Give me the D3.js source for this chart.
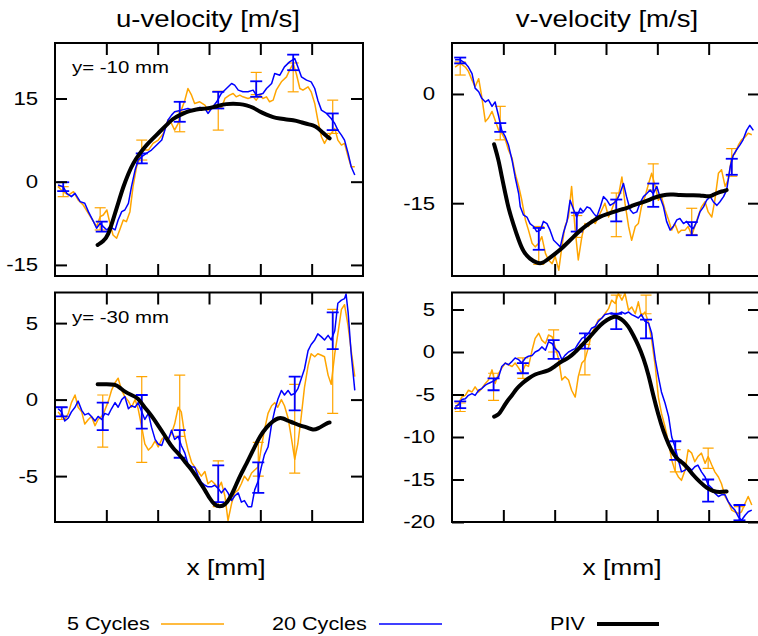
<!DOCTYPE html>
<html lang="en">
<head>
<meta charset="UTF-8">
<title>u / v velocity profiles</title>
<script src="https://d3js.org/d3.v7.min.js"></script>
<style>
    body { margin: 0; background: #fff; }
    svg { display: block; font-family: "Liberation Sans", Arial, sans-serif; }
</style>
</head>
<body>
<script>
    // ---- data (x in mm, velocity in m/s) ----

    // u-velocity, y = -10 mm
    var u10_5 = [[0.6,-0.9],[1.6,-1.8],[2.6,-2.4],[3.6,-1.8],[4.5,-3.3],[5.5,-4.2],[6.5,-5.7],[7.5,-7.2],[8.1,-8.1],[8.8,-6.3],[9.4,-6.0],[10.1,-5.1],[10.7,-7.5],[11.3,-9.6],[12.0,-10.2],[12.6,-8.7],[13.3,-6.9],[13.9,-7.2],[14.6,-5.4],[15.2,-0.9],[15.9,2.7],[16.5,4.2],[17.2,5.7],[18.2,5.7],[19.1,6.9],[20.1,7.5],[21.1,8.7],[22.0,11.1],[22.7,10.5],[23.3,9.3],[24.0,10.5],[24.6,12.9],[25.3,14.7],[25.9,16.8],[26.6,15.6],[27.2,14.1],[28.2,14.4],[29.2,13.8],[29.8,12.9],[30.8,13.5],[31.8,13.8],[32.4,13.2],[33.1,15.0],[34.0,15.6],[34.7,15.9],[35.3,15.3],[36.0,15.6],[36.6,15.3],[37.6,15.0],[38.6,15.3],[39.2,14.7],[39.9,15.6],[40.5,15.0],[41.2,15.3],[41.8,14.4],[42.5,14.7],[43.1,16.5],[44.1,18.0],[45.1,18.9],[45.7,20.1],[46.4,21.3],[47.0,19.5],[47.7,16.8],[48.3,16.5],[49.3,17.1],[49.9,16.2],[50.6,14.1],[51.2,11.1],[51.9,8.1],[52.5,6.9],[53.2,8.1],[53.8,8.7],[54.5,9.6],[55.1,7.5],[55.8,6.6],[56.4,6.9],[57.1,4.5],[57.7,2.7],[58.4,2.7]];
    var u10_20 = [[0.6,-0.6],[1.6,-0.9],[2.3,-2.1],[3.2,-2.7],[3.9,-2.1],[4.9,-3.6],[5.8,-3.9],[6.5,-5.4],[7.5,-7.2],[8.1,-8.4],[8.8,-7.5],[9.4,-8.1],[10.1,-8.7],[10.7,-8.1],[11.7,-8.7],[12.3,-6.9],[13.0,-5.4],[13.6,-5.1],[14.3,-3.9],[14.9,-0.9],[15.6,2.1],[16.2,3.9],[16.9,4.5],[17.8,5.1],[18.8,5.7],[19.8,6.6],[20.8,7.5],[21.4,9.3],[22.0,11.1],[22.7,12.0],[23.3,12.6],[24.6,12.9],[25.9,13.2],[26.9,12.9],[28.2,13.4],[29.2,13.2],[29.8,12.3],[30.5,13.2],[31.5,14.4],[32.4,15.9],[33.4,16.8],[34.4,17.7],[35.0,17.4],[35.7,16.5],[36.6,16.2],[37.6,16.2],[38.6,16.5],[39.2,15.6],[40.5,15.9],[41.2,16.8],[42.2,17.7],[42.8,19.5],[43.8,19.2],[44.7,20.7],[45.7,21.6],[46.7,22.2],[47.3,20.7],[48.0,18.9],[49.0,18.3],[49.9,18.0],[50.6,16.8],[51.2,14.7],[51.9,12.9],[52.9,12.3],[53.8,11.4],[54.5,10.5],[55.1,9.3],[55.8,8.4],[56.4,7.5],[57.1,5.1],[57.7,2.7],[58.4,1.2]];
    var u10_piv = [[8.3,-11.4],[9.4,-10.8],[10.4,-9.6],[11.3,-6.9],[12.3,-3.9],[13.3,-0.9],[14.3,1.5],[15.2,3.3],[16.5,5.1],[17.8,6.6],[19.1,7.8],[20.4,9.0],[21.7,10.2],[23.0,11.4],[24.3,12.0],[25.6,12.6],[26.9,12.9],[28.2,13.1],[29.5,13.2],[30.8,13.4],[32.1,13.8],[33.4,14.0],[34.7,14.1],[36.0,14.0],[37.3,13.8],[38.6,13.4],[39.9,12.6],[41.2,12.1],[42.5,11.6],[43.8,11.4],[45.1,11.2],[46.4,11.1],[47.7,10.8],[49.0,10.4],[50.3,10.2],[51.2,9.7],[52.2,8.8],[53.2,8.0],[53.5,7.8]];
    // error bars: [x, mean, half width]
    var u10_err5 = [[1.6,-1.8,0.9],[8.8,-6.7,2.0],[16.9,5.7,1.8],[24.3,10.8,1.8],[31.8,12.8,3.5],[39.2,17.7,2.0],[46.4,18.8,2.6],[54.1,11.7,3.0]];
    var u10_err20 = [[1.6,-0.9,0.8],[9.1,-8.1,0.9],[16.9,4.2,0.9],[24.3,12.6,1.8],[31.8,14.7,1.5],[39.2,16.7,1.4],[46.4,21.5,1.4],[54.1,10.8,1.5]];

    // v-velocity, y = -10 mm
    var v10_5 = [[0.6,3.7],[1.6,4.2],[2.6,3.7],[3.2,3.1],[3.9,1.9],[4.5,1.0],[5.2,2.1],[5.8,-0.4],[6.5,-3.8],[7.1,-3.3],[7.8,-2.4],[8.4,-3.6],[9.1,-5.0],[9.7,-5.4],[10.4,-6.3],[11.0,-7.7],[11.7,-8.8],[12.3,-10.9],[13.0,-12.7],[13.6,-14.6],[14.3,-17.3],[14.9,-18.7],[15.6,-20.5],[16.2,-21.0],[16.9,-20.5],[17.5,-19.6],[18.2,-21.9],[18.8,-22.8],[19.5,-23.3],[20.1,-22.3],[20.8,-24.2],[21.4,-21.0],[22.0,-18.2],[22.7,-16.9],[23.3,-12.7],[24.0,-18.7],[24.6,-22.8],[25.3,-19.6],[25.9,-17.8],[26.6,-18.2],[27.2,-17.3],[27.9,-17.8],[28.5,-16.9],[29.2,-15.9],[29.8,-15.0],[30.5,-16.9],[31.1,-15.9],[31.8,-14.6],[32.4,-14.1],[33.1,-11.4],[33.7,-15.0],[34.4,-18.2],[35.0,-20.1],[35.7,-18.2],[36.3,-17.8],[36.9,-15.5],[37.6,-14.1],[38.3,-12.3],[38.9,-10.9],[39.6,-12.7],[40.2,-14.6],[40.8,-14.1],[41.5,-15.9],[42.2,-17.3],[42.8,-18.7],[43.4,-17.8],[44.1,-19.1],[44.7,-18.7],[45.4,-18.7],[46.0,-18.2],[46.7,-19.4],[47.3,-18.2],[47.9,-16.9],[48.6,-15.5],[49.3,-14.8],[49.9,-16.2],[50.6,-16.9],[51.2,-14.6],[51.9,-10.9],[52.5,-10.4],[53.2,-12.7],[53.8,-11.8],[54.5,-8.6],[55.1,-8.2],[55.8,-7.0],[56.4,-6.3],[57.1,-5.9],[57.7,-5.4],[58.4,-5.6]];
    var v10_20 = [[0.6,4.7],[1.6,4.7],[2.6,4.2],[3.2,3.7],[3.9,2.8],[4.5,0.8],[5.2,0.3],[5.8,-0.6],[6.5,-1.1],[7.1,-0.8],[7.8,-1.7],[8.4,-1.1],[9.1,-3.1],[9.7,-5.0],[10.4,-5.9],[11.0,-7.0],[11.7,-9.1],[12.3,-11.4],[13.0,-13.7],[13.3,-15.5],[13.9,-16.6],[14.6,-16.9],[15.2,-17.8],[15.9,-18.2],[16.5,-18.9],[17.2,-18.7],[17.8,-17.5],[18.5,-17.8],[19.1,-18.7],[19.8,-20.1],[20.4,-20.5],[21.1,-21.0],[21.7,-19.1],[22.4,-17.5],[23.0,-14.6],[23.7,-15.9],[24.3,-16.9],[25.0,-15.7],[25.6,-16.2],[26.3,-15.5],[26.9,-15.7],[27.6,-16.4],[28.2,-16.9],[28.9,-15.5],[29.5,-14.1],[30.2,-14.6],[30.8,-15.3],[31.5,-15.0],[32.1,-14.6],[32.7,-13.7],[33.4,-12.3],[34.0,-14.1],[34.7,-15.9],[35.3,-16.4],[36.0,-16.2],[36.6,-15.0],[37.3,-14.1],[37.9,-13.7],[38.6,-13.2],[39.2,-13.7],[39.9,-12.7],[40.5,-14.1],[41.2,-15.5],[41.8,-17.5],[42.5,-18.7],[43.1,-18.2],[43.8,-17.3],[44.4,-17.1],[45.1,-17.8],[45.7,-17.5],[46.4,-18.2],[47.0,-18.5],[47.7,-17.5],[48.3,-16.2],[49.0,-15.5],[49.6,-14.6],[50.3,-14.1],[50.9,-14.8],[51.6,-15.3],[52.2,-14.8],[52.9,-14.1],[53.5,-13.2],[54.2,-10.0],[54.8,-8.4],[55.4,-7.7],[56.1,-7.0],[56.7,-6.3],[57.4,-5.0],[58.0,-4.3],[58.7,-5.0]];
    var v10_piv = [[8.2,-6.9],[9.1,-9.1],[9.7,-11.4],[10.4,-13.7],[11.0,-15.7],[12.0,-18.0],[13.0,-20.1],[13.9,-21.7],[15.2,-22.7],[16.5,-23.2],[17.5,-23.3],[18.5,-22.8],[19.8,-22.1],[21.1,-21.4],[22.4,-20.5],[23.7,-19.6],[25.0,-18.7],[26.3,-18.0],[27.6,-17.4],[28.9,-16.8],[30.2,-16.5],[31.5,-16.2],[32.7,-15.9],[34.0,-15.7],[35.3,-15.3],[36.6,-15.0],[37.9,-14.7],[39.2,-14.3],[40.5,-14.0],[41.8,-13.8],[43.1,-13.8],[44.4,-13.9],[45.7,-13.9],[47.0,-13.9],[48.3,-13.9],[49.6,-14.1],[50.6,-14.0],[51.6,-13.6],[52.5,-13.4],[53.5,-13.2]];
    var v10_err5 = [[1.6,3.5,0.9],[9.4,-4.0,2.3],[16.9,-20.8,2.6],[24.3,-18.2,1.5],[32.0,-16.6,3.0],[39.2,-11.4,1.8],[46.7,-17.5,1.8],[54.5,-9.4,1.9]];
    var v10_err20 = [[1.6,4.6,0.4],[9.4,-4.6,0.6],[16.9,-19.9,1.5],[24.3,-17.6,1.3],[32.0,-16.0,1.5],[39.2,-13.9,1.6],[46.7,-18.5,0.9],[54.5,-10.0,1.1]];

    // u-velocity, y = -30 mm
    var u30_5 = [[0.6,-0.8],[1.3,-1.1],[1.9,-1.3],[2.6,-0.9],[3.2,-0.2],[3.9,0.3],[4.5,-0.5],[5.2,-0.8],[5.8,-1.6],[6.5,-1.3],[7.1,-1.1],[7.8,-1.7],[8.4,-1.3],[9.1,-1.1],[9.7,-0.7],[10.4,-0.1],[11.0,0.6],[11.7,1.1],[12.3,1.4],[13.0,0.6],[13.6,0.2],[14.3,-0.1],[14.9,-0.5],[15.6,0.0],[16.2,-0.6],[16.9,-1.8],[17.5,-2.9],[18.2,-3.3],[18.8,-3.1],[19.5,-2.7],[20.1,-3.1],[20.8,-2.6],[21.4,-2.4],[22.0,-2.6],[22.7,-2.2],[23.3,-1.6],[24.0,-0.5],[24.6,-0.8],[25.3,-2.4],[25.9,-3.3],[26.6,-4.1],[27.2,-4.4],[27.9,-4.7],[28.5,-5.0],[29.2,-4.7],[29.8,-5.5],[30.5,-5.3],[31.1,-5.5],[31.8,-5.8],[32.4,-5.4],[33.1,-6.3],[33.7,-7.9],[34.4,-6.8],[35.0,-6.1],[35.7,-5.9],[36.3,-5.5],[36.9,-5.0],[37.6,-5.3],[38.3,-4.8],[38.9,-4.6],[39.6,-4.4],[40.2,-3.1],[40.8,-2.0],[41.5,-0.9],[42.2,-0.4],[42.8,-0.2],[43.4,-0.5],[44.1,0.0],[44.7,-0.4],[45.4,-1.2],[46.0,-2.4],[46.7,-3.9],[47.3,-2.9],[47.9,-1.3],[48.6,0.8],[49.3,2.2],[49.9,3.0],[50.6,2.8],[51.2,3.0],[51.9,2.9],[52.5,2.8],[53.2,1.6],[53.8,1.0],[54.5,3.0],[55.1,4.3],[55.8,5.9],[56.4,6.2],[57.1,4.8],[57.7,3.2],[58.4,1.5]];
    var u30_20 = [[0.6,-0.6],[1.3,-0.8],[1.9,-1.4],[2.6,-1.2],[3.2,-0.8],[3.9,-0.5],[4.5,-0.1],[5.2,-0.7],[5.8,-1.0],[6.5,-0.9],[7.1,-1.1],[7.8,-1.4],[8.4,-1.1],[9.1,-1.3],[9.7,-0.9],[10.4,-1.0],[11.0,-0.6],[11.7,-0.2],[12.3,-0.5],[13.0,0.0],[13.6,0.2],[14.3,-0.6],[14.9,-0.4],[15.6,-0.5],[16.2,-0.2],[16.9,-0.8],[17.5,-1.3],[18.2,-0.9],[18.8,-1.8],[19.5,-2.6],[20.1,-2.9],[20.8,-3.0],[21.4,-2.4],[22.0,-2.7],[22.7,-2.0],[23.3,-2.6],[24.0,-2.4],[24.6,-3.0],[25.3,-3.5],[25.9,-4.2],[26.6,-4.4],[27.2,-4.4],[27.9,-5.0],[28.5,-5.4],[29.2,-5.6],[29.8,-5.7],[30.5,-5.7],[31.1,-5.6],[31.8,-5.8],[32.4,-6.1],[33.1,-5.8],[33.7,-6.1],[34.4,-6.6],[35.0,-6.3],[35.7,-6.1],[36.3,-6.7],[36.9,-6.6],[37.6,-7.0],[38.3,-7.0],[38.9,-5.9],[39.6,-5.3],[40.2,-4.4],[40.8,-3.6],[41.5,-3.1],[42.2,-1.6],[42.8,-0.7],[43.4,0.0],[44.1,0.6],[44.7,0.3],[45.4,0.6],[46.0,0.3],[46.7,0.4],[47.3,0.7],[47.9,1.3],[48.6,2.0],[49.3,3.2],[49.9,3.6],[50.6,3.9],[51.2,4.3],[51.9,4.1],[52.5,3.9],[53.2,4.2],[53.8,3.9],[54.5,4.5],[55.1,6.3],[55.8,6.5],[56.4,6.6],[56.7,6.9],[57.1,5.7],[57.7,3.0],[58.4,0.6]];
    var u30_piv = [[8.3,1.0],[10.1,1.0],[11.7,1.0],[12.6,0.8],[13.6,0.5],[14.9,0.3],[16.2,0.1],[17.2,-0.4],[18.2,-0.8],[19.1,-1.2],[20.1,-1.7],[21.1,-2.2],[22.0,-2.7],[23.0,-3.2],[24.3,-3.6],[25.6,-4.2],[26.9,-4.7],[28.2,-5.4],[29.2,-5.9],[30.2,-6.5],[31.1,-6.9],[32.1,-7.0],[33.1,-6.9],[34.0,-6.5],[35.0,-5.8],[36.0,-5.0],[37.3,-4.2],[38.6,-3.3],[39.9,-2.4],[41.2,-1.8],[42.5,-1.4],[43.4,-1.2],[44.4,-1.2],[45.4,-1.4],[46.4,-1.5],[47.7,-1.7],[49.0,-1.8],[50.3,-2.0],[51.2,-1.9],[52.2,-1.7],[53.2,-1.5],[53.5,-1.5]];
    var u30_err5 = [[1.3,-0.9,0.4],[9.3,-1.4,1.7],[16.9,-1.3,2.8],[24.3,-0.4,2.0],[31.8,-5.5,1.5],[39.6,-3.9,1.1],[46.7,-1.9,2.9],[54.1,2.5,3.4]];
    var u30_err20 = [[1.3,-0.8,0.3],[9.3,-1.1,0.9],[16.9,-0.8,1.1],[24.3,-2.9,0.9],[31.8,-5.5,1.2],[39.6,-5.1,1.0],[46.7,0.4,1.1],[54.1,4.5,1.2]];

    // v-velocity, y = -30 mm
    var v30_5 = [[0.6,-6.8],[1.3,-6.0],[1.9,-5.3],[2.6,-5.1],[3.2,-4.5],[3.9,-4.7],[4.5,-4.1],[5.2,-4.7],[5.8,-4.3],[6.5,-3.7],[7.1,-3.3],[7.8,-2.1],[8.4,-3.7],[9.1,-2.5],[9.7,-1.9],[10.4,-1.3],[11.0,-1.5],[11.7,-1.7],[12.3,-1.3],[13.0,-1.9],[13.6,-2.5],[14.3,-1.5],[14.9,-1.7],[15.6,0.2],[16.2,1.6],[16.9,2.2],[17.5,1.4],[18.2,1.0],[18.8,2.0],[19.5,1.8],[20.1,0.6],[20.8,-0.9],[21.4,-3.3],[22.0,-2.9],[22.7,-3.3],[23.3,-4.5],[24.0,-5.3],[24.6,-2.9],[25.3,-1.3],[25.9,-0.9],[26.6,0.6],[27.2,2.2],[27.9,3.0],[28.5,3.8],[29.2,4.0],[29.8,4.5],[30.5,5.1],[31.1,6.1],[31.8,5.7],[32.4,6.9],[33.1,6.1],[33.7,6.9],[34.4,4.9],[35.0,5.3],[35.7,4.5],[36.3,5.9],[36.9,4.2],[37.6,4.7],[38.3,3.4],[38.9,1.4],[39.6,-1.7],[40.2,-5.3],[40.8,-7.2],[41.5,-8.8],[42.2,-10.7],[42.8,-12.7],[43.4,-13.9],[44.1,-14.7],[44.7,-15.1],[45.4,-13.9],[46.0,-11.5],[46.7,-11.9],[47.3,-12.9],[47.9,-12.3],[48.6,-11.9],[49.3,-13.1],[49.9,-12.3],[50.6,-13.3],[51.2,-14.1],[51.9,-14.7],[52.5,-15.5],[53.2,-17.0],[53.8,-17.6],[54.5,-18.6],[55.1,-18.8],[55.8,-19.0],[56.4,-18.8],[57.1,-17.8],[57.7,-17.0],[58.4,-18.0]];
    var v30_20 = [[0.6,-6.4],[1.3,-6.2],[1.9,-5.6],[2.6,-5.5],[3.2,-5.1],[3.9,-4.9],[4.5,-5.1],[5.2,-4.5],[5.8,-4.3],[6.5,-3.9],[7.1,-3.7],[7.8,-3.5],[8.4,-3.3],[9.1,-2.9],[9.7,-1.7],[10.4,-1.3],[11.0,-1.5],[11.7,-1.1],[12.3,-0.7],[13.0,-0.9],[13.6,-1.3],[14.3,-0.7],[14.9,-0.5],[15.6,-0.4],[16.2,0.0],[16.9,0.2],[17.5,0.6],[18.2,0.2],[18.8,1.2],[19.5,1.0],[20.1,0.4],[20.8,0.0],[21.4,-0.9],[22.0,-0.4],[22.7,0.0],[23.3,0.2],[24.0,0.4],[24.6,1.0],[25.3,1.6],[25.9,1.8],[26.6,2.2],[27.2,2.8],[27.9,3.0],[28.5,3.6],[29.2,4.0],[29.8,4.4],[30.5,4.5],[31.1,4.6],[31.8,4.4],[32.4,4.5],[33.1,4.7],[33.7,4.5],[34.4,4.7],[35.0,4.4],[35.7,4.2],[36.3,4.0],[36.9,4.4],[37.6,3.6],[38.3,3.4],[38.9,2.2],[39.6,-0.9],[40.2,-2.9],[40.8,-4.7],[41.5,-6.0],[42.2,-7.6],[42.8,-10.0],[43.4,-11.1],[44.1,-12.7],[44.7,-14.1],[45.4,-13.9],[46.0,-13.5],[46.7,-13.9],[47.3,-13.5],[47.9,-13.3],[48.6,-14.1],[49.3,-14.7],[49.9,-15.6],[50.6,-16.0],[51.2,-16.6],[51.9,-17.0],[52.5,-16.8],[53.2,-16.8],[53.8,-17.6],[54.5,-18.2],[55.1,-18.6],[55.8,-19.4],[56.4,-19.8],[57.1,-19.2],[57.7,-18.8],[58.4,-18.6]];
    var v30_piv = [[8.2,-7.6],[9.1,-7.4],[9.7,-6.8],[10.7,-5.8],[11.7,-5.1],[12.6,-4.3],[13.6,-3.7],[14.9,-3.1],[16.2,-2.6],[17.5,-2.4],[18.8,-2.2],[19.8,-1.8],[20.8,-1.3],[21.7,-1.0],[22.7,-0.7],[23.7,-0.2],[25.0,0.6],[26.3,1.4],[27.6,2.3],[28.9,3.2],[30.2,3.8],[31.5,4.2],[32.4,4.1],[33.4,3.7],[34.4,3.0],[35.3,2.0],[36.3,0.8],[37.3,-0.7],[38.3,-2.7],[39.2,-5.1],[40.2,-7.4],[41.2,-9.4],[42.2,-10.9],[43.2,-12.1],[44.1,-12.7],[45.1,-13.1],[46.0,-13.7],[47.0,-14.5],[48.3,-15.3],[49.6,-16.0],[50.9,-16.4],[52.2,-16.5],[53.5,-16.4]];
    var v30_err5 = [[1.6,-6.5,0.5],[8.1,-4.1,1.6],[13.8,-1.9,1.2],[19.8,1.3,1.3],[25.9,-0.9,1.8],[32.0,5.6,1.1],[37.8,5.6,1.1],[43.5,-12.8,1.3],[49.9,-12.5,1.2],[56.0,-19.1,0.9]];
    var v30_err20 = [[1.6,-6.2,0.4],[8.1,-3.8,0.7],[13.8,-1.9,0.6],[19.8,0.3,1.1],[25.9,1.3,0.9],[32.0,3.6,0.9],[37.8,2.7,1.1],[43.5,-11.6,1.1],[49.9,-16.3,1.3],[56.0,-18.9,0.9]];

    var xTicks = [10, 20, 30, 40, 50];
    var columnTitles = ["u-velocity [m/s]", "v-velocity [m/s]"];
    var legendNames = ["5 Cycles", "20 Cycles", "PIV"];

    // ---- layout ----
    var w = 758;
    var h = 636;
    var plotW = 308;
    var stretch = 1.2;   // the glyphs in the picture are wider than Arial
    var orange = "#ffa500";
    var blue = "#0000ff";

    var panels = [
        {left: 55,  top: 43,    bottom: 276, yDomain: [-17, 25], yTicks: [-15, 0, 15],
         s5: u10_5, s20: u10_20, piv: u10_piv, e5: u10_err5, e20: u10_err20, note: "y= -10 mm"},
        {left: 452, top: 43,    bottom: 276, yDomain: [-25, 7],  yTicks: [-15, 0],
         s5: v10_5, s20: v10_20, piv: v10_piv, e5: v10_err5, e20: v10_err20},
        {left: 55,  top: 292.5, bottom: 522, yDomain: [-8, 7],   yTicks: [-5, 0, 5],
         s5: u30_5, s20: u30_20, piv: u30_piv, e5: u30_err5, e20: u30_err20, note: "y= -30 mm"},
        {left: 452, top: 292.5, bottom: 522, yDomain: [-20, 7],  yTicks: [-20, -15, -10, -5, 0, 5],
         s5: v30_5, s20: v30_20, piv: v30_piv, e5: v30_err5, e20: v30_err20}
    ];

    var svg = d3.select("body")
        .append("svg")
        .attr("width", w)
        .attr("height", h);

    // text that is widened horizontally round its anchor point
    function label(parent, x, y, str, size, anchor) {
        return parent.append("text")
            .attr("transform", "translate(" + x + "," + y + ") scale(" + stretch + ",1)")
            .attr("text-anchor", anchor || "start")
            .style("font-size", size + "px")
            .style("fill", "black")
            .text(str);
    }

    panels.forEach(function(p, i) {
        var plotH = p.bottom - p.top;
        var x = d3.scaleLinear().domain([0, 60]).range([0, plotW]);
        var y = d3.scaleLinear().domain(p.yDomain).range([plotH, 0]);

        var g = svg.append("g")
            .attr("transform", "translate(" + p.left + "," + p.top + ")");

        g.append("clipPath")
            .attr("id", "clip" + i)
            .append("rect")
            .attr("width", plotW)
            .attr("height", plotH);

        var plot = g.append("g").attr("clip-path", "url(#clip" + i + ")");

        var line = d3.line()
            .x(function(d) { return x(d[0]); })
            .y(function(d) { return y(d[1]); });

        function errorBars(data, color, width, cap) {
            var bars = plot.append("g")
                .attr("stroke", color)
                .attr("stroke-width", width);
            data.forEach(function(d) {
                var cx = x(d[0]);
                var lo = y(d[1] - d[2]);
                var hi = y(d[1] + d[2]);
                bars.append("line").attr("x1", cx).attr("x2", cx).attr("y1", lo).attr("y2", hi);
                bars.append("line").attr("x1", cx - cap).attr("x2", cx + cap).attr("y1", lo).attr("y2", lo);
                bars.append("line").attr("x1", cx - cap).attr("x2", cx + cap).attr("y1", hi).attr("y2", hi);
            });
        }

        plot.append("path")
            .datum(p.s5)
            .attr("fill", "none")
            .attr("stroke", orange)
            .attr("stroke-width", 1.5)
            .attr("stroke-linejoin", "round")
            .attr("d", line);
        errorBars(p.e5, orange, 1.2, 5.5);

        plot.append("path")
            .datum(p.s20)
            .attr("fill", "none")
            .attr("stroke", blue)
            .attr("stroke-width", 1.5)
            .attr("stroke-linejoin", "round")
            .attr("d", line);
        errorBars(p.e20, blue, 1.8, 6);

        plot.append("path")
            .datum(p.piv)
            .attr("fill", "none")
            .attr("stroke", "black")
            .attr("stroke-width", 4)
            .attr("stroke-linecap", "round")
            .attr("d", line.curve(d3.curveBasis));

        // inward ticks on all four sides
        function tidy(sel) {
            sel.select(".domain").remove();
            sel.selectAll(".tick line").attr("stroke-width", 2);
        }
        g.append("g")
            .attr("transform", "translate(0," + plotH + ")")
            .call(d3.axisBottom(x).tickValues(xTicks).tickSize(-12).tickFormat(""))
            .call(tidy);
        g.append("g")
            .call(d3.axisTop(x).tickValues(xTicks).tickSize(-12).tickFormat(""))
            .call(tidy);
        g.append("g")
            .attr("transform", "translate(" + plotW + ",0)")
            .call(d3.axisRight(y).tickValues(p.yTicks).tickSize(-12).tickFormat(""))
            .call(tidy);
        var left = g.append("g")
            .call(d3.axisLeft(y).tickValues(p.yTicks).tickSize(-12).tickPadding(14)
                .tickFormat(function(d) { return String(d); }))
            .call(tidy);
        left.selectAll(".tick text")
            .attr("transform", "scale(" + stretch + ",1)")
            .style("font-size", "18.5px")
            .style("font-family", "'Liberation Sans', Arial, sans-serif")
            .attr("fill", "black");

        g.append("rect")
            .attr("width", plotW)
            .attr("height", plotH)
            .attr("fill", "none")
            .attr("stroke", "black")
            .attr("stroke-width", 2);

        if (p.note) label(g, 17, 30, p.note, 17);
    });

    label(svg, 208, 27, columnTitles[0], 23, "middle");
    label(svg, 607, 27, columnTitles[1], 23, "middle");
    label(svg, 226, 575, "x [mm]", 22, "middle");
    label(svg, 622, 575, "x [mm]", 22, "middle");

    // legend
    var legend = [
        {name: legendNames[0], tx: 67,  x1: 161, x2: 224, color: orange, width: 1.5},
        {name: legendNames[1], tx: 272, x1: 379, x2: 442, color: blue,   width: 1.5},
        {name: legendNames[2], tx: 550, x1: 597, x2: 659, color: "black", width: 4}
    ];
    legend.forEach(function(d) {
        label(svg, d.tx, 630, d.name, 18);
        svg.append("line")
            .attr("x1", d.x1).attr("x2", d.x2)
            .attr("y1", 624).attr("y2", 624)
            .attr("stroke", d.color)
            .attr("stroke-width", d.width);
    });
</script>
</body>
</html>
